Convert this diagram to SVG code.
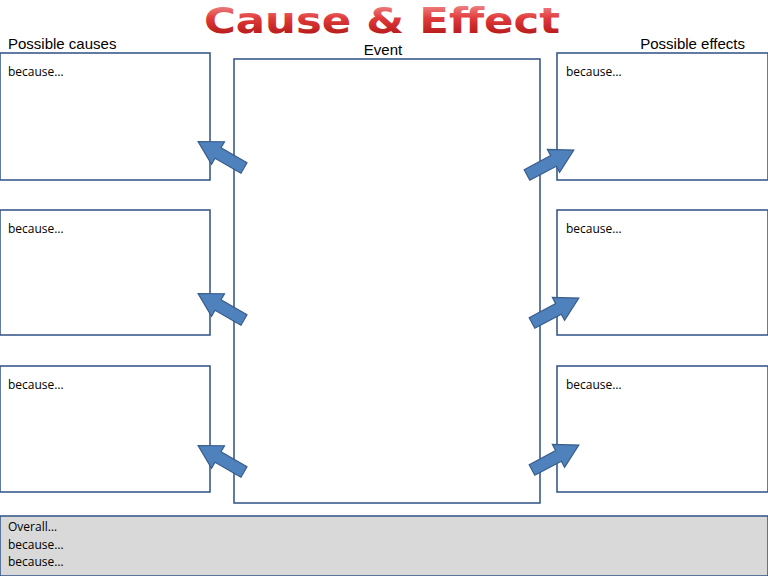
<svg xmlns="http://www.w3.org/2000/svg" width="768" height="576" viewBox="0 0 768 576">
<style>
.box{fill:#fff;stroke:#3a5a8c;stroke-width:1.6}
.hd{font-family:"Liberation Sans",Arial,sans-serif;font-size:15px;fill:#000}
.bc{font-family:"Open Sans","DejaVu Sans",sans-serif;font-size:12px;fill:#000}
.arr{fill:#4f81bd;stroke:#385d8a;stroke-width:1.2}
</style>
<defs>
<linearGradient id="tg" x1="0" y1="0" x2="0" y2="1"><stop offset="0" stop-color="#f4a0a0"/><stop offset="0.45" stop-color="#e03a3a"/><stop offset="1" stop-color="#a50e0e"/></linearGradient>
<path id="a" d="M0,-6 L30,-6 L30,-13 L53,0 L30,13 L30,6 L0,6 Z"/>
</defs>
<rect width="768" height="576" fill="#fff"/>
<text x="382" y="33" text-anchor="middle" font-family="DejaVu Sans,sans-serif" font-weight="bold" font-size="36" textLength="356" lengthAdjust="spacingAndGlyphs" fill="url(#tg)" stroke="#fff" stroke-width="1" paint-order="stroke">Cause &amp; Effect</text>
<text class="hd" x="8" y="49">Possible causes</text>
<text class="hd" x="383" y="55" text-anchor="middle">Event</text>
<text class="hd" x="745" y="49" text-anchor="end">Possible effects</text>
<g id="event"><rect class="box" x="234" y="59" width="306" height="444"/></g>
<g id="c1"><rect class="box" x="0" y="53" width="210" height="127"/><text class="bc" x="8" y="76">because…</text></g>
<g id="c2"><rect class="box" x="0" y="210" width="210" height="125"/><text class="bc" x="8" y="233">because…</text></g>
<g id="c3"><rect class="box" x="0" y="366" width="210" height="126"/><text class="bc" x="8" y="389">because…</text></g>
<g id="e1"><rect class="box" x="557" y="53" width="211" height="127"/><text class="bc" x="566" y="76">because…</text></g>
<g id="e2"><rect class="box" x="557" y="210" width="211" height="125"/><text class="bc" x="566" y="233">because…</text></g>
<g id="e3"><rect class="box" x="557" y="366" width="211" height="126"/><text class="bc" x="566" y="389">because…</text></g>
<g id="overall"><rect x="0" y="516" width="768" height="60" fill="#d9d9d9" stroke="#3a5a8c" stroke-width="1.6"/>
<text class="bc" x="8" y="531">Overall…</text><text class="bc" x="8" y="549">because…</text><text class="bc" x="8" y="566">because…</text></g>
<g id="connectors">
<use href="#a" class="arr" transform="translate(244,168) rotate(-150)"/>
<use href="#a" class="arr" transform="translate(244,320) rotate(-150)"/>
<use href="#a" class="arr" transform="translate(244,472) rotate(-150)"/>
<use href="#a" class="arr" transform="translate(527,175) rotate(-28)"/>
<use href="#a" class="arr" transform="translate(532,323) rotate(-28)"/>
<use href="#a" class="arr" transform="translate(532,470) rotate(-28)"/>
</g>
</svg>
